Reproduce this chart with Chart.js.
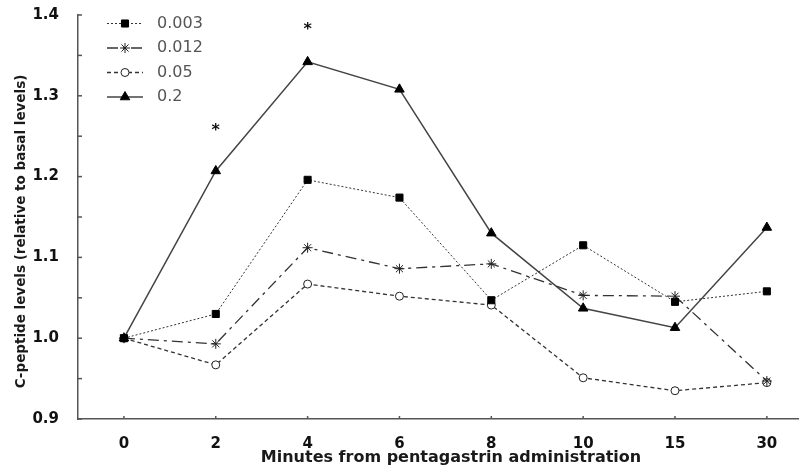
<!DOCTYPE html>
<html>
<head>
<meta charset="utf-8">
<script src="https://cdn.jsdelivr.net/npm/chart.js@4/dist/chart.umd.min.js"></script>
<style>
  html, body { margin: 0; padding: 0; background: #fff; overflow: hidden; }
</style>
</head>
<body>
<canvas id="chart" width="799" height="465"></canvas>
<script>
// minutes after pentagastrin, one category per point
const minutes = ['0', '2', '4', '6', '8', '10', '15', '30']
const doses = ['0.003', '0.012', '0.05', '0.2']

// C-peptide relative to basal
const dose003 = [1.0, 1.03, 1.196, 1.174, 1.047, 1.115, 1.045, 1.058]
const dose012 = [1.0, 0.993, 1.112, 1.086, 1.092, 1.053, 1.052, 0.947]
const dose05 = [1.0, 0.967, 1.067, 1.052, 1.041, 0.951, 0.935, 0.945]
const dose2 = [1.0, 1.207, 1.342, 1.308, 1.13, 1.037, 1.013, 1.137]

// significance stars
const starAt = ['2', '4']
const starY = [1.263, 1.388]

const yTicks = [0.9, 1.0, 1.1, 1.2, 1.3, 1.4]

const toPoints = arr => arr.map((v, i) => ({ x: i, y: v }))

const overlay = {
  id: 'overlay',
  afterDraw(chart) {
    const ctx = chart.ctx
    const xs = chart.scales.x
    const ys = chart.scales.y
    const area = chart.chartArea
    ctx.save()

    // inward tick marks
    ctx.strokeStyle = '#555'
    ctx.lineWidth = 1.5
    ys.ticks.forEach(t => {
      const y = ys.getPixelForValue(t.value)
      ctx.beginPath()
      ctx.moveTo(area.left, y)
      ctx.lineTo(area.left + 4, y)
      ctx.stroke()
    })
    xs.ticks.forEach(t => {
      const x = xs.getPixelForValue(t.value)
      ctx.beginPath()
      ctx.moveTo(x, area.bottom)
      ctx.lineTo(x, area.bottom - 3)
      ctx.stroke()
    })

    // stars
    ctx.fillStyle = '#111'
    ctx.font = 'bold 16px "DejaVu Sans"'
    ctx.textAlign = 'center'
    ctx.textBaseline = 'alphabetic'
    starAt.forEach((m, i) => {
      const x = xs.getPixelForValue(minutes.indexOf(m))
      const y = ys.getPixelForValue(starY[i])
      ctx.fillText('*', x, y + 9)
    })

    // axis titles
    ctx.fillStyle = '#1a1a1a'
    ctx.font = 'bold 16px "DejaVu Sans"'
    ctx.fillText('Minutes from pentagastrin administration', 451, 462)
    ctx.save()
    ctx.translate(24.5, 231.5)
    ctx.rotate(-Math.PI / 2)
    ctx.font = 'bold 13.5px "DejaVu Sans"'
    ctx.fillText('C-peptide levels (relative to basal levels)', 0, 0)
    ctx.restore()

    // legend inside the plot, bottom row is cut off as in the original
    ctx.save()
    ctx.beginPath()
    ctx.rect(0, 0, 400, 101.5)
    ctx.clip()
    chart.data.datasets.forEach((ds, i) => {
      const y = 23.5 + i * 24.5
      ctx.strokeStyle = ds.borderColor
      ctx.lineWidth = ds.borderWidth
      ctx.setLineDash(ds.borderDash || [])
      ctx.beginPath()
      ctx.moveTo(107, y)
      ctx.lineTo(143, y)
      ctx.stroke()
      ctx.setLineDash([])
      ctx.fillStyle = ds.pointBackgroundColor
      ctx.strokeStyle = ds.pointBorderColor
      ctx.lineWidth = ds.pointBorderWidth
      Chart.helpers.drawPoint(ctx, {
        pointStyle: ds.pointStyle,
        rotation: 0,
        radius: ds.pointRadius,
        borderWidth: ds.pointBorderWidth
      }, 125, y)
      ctx.fillStyle = '#555'
      ctx.font = '16px "DejaVu Sans"'
      ctx.textAlign = 'left'
      ctx.textBaseline = 'middle'
      ctx.fillText(ds.label, 157, y)
    })
    ctx.restore()

    ctx.restore()
  }
}

new Chart(document.getElementById('chart'), {
  type: 'line',
  data: {
    datasets: [
      {
        label: doses[0],
        data: toPoints(dose003),
        borderColor: '#333',
        borderWidth: 1,
        borderDash: [2, 2],
        pointStyle: 'rect',
        pointRadius: 5,
        pointBackgroundColor: '#000',
        pointBorderColor: '#000',
        pointBorderWidth: 1
      },
      {
        label: doses[1],
        data: toPoints(dose012),
        borderColor: '#333',
        borderWidth: 1.3,
        borderDash: [11, 5, 3, 5],
        pointStyle: 'star',
        pointRadius: 5,
        pointBackgroundColor: '#000',
        pointBorderColor: '#222',
        pointBorderWidth: 1
      },
      {
        label: doses[2],
        data: toPoints(dose05),
        borderColor: '#333',
        borderWidth: 1.3,
        borderDash: [4, 3],
        pointStyle: 'circle',
        pointRadius: 4,
        pointBackgroundColor: '#fff',
        pointBorderColor: '#222',
        pointBorderWidth: 1
      },
      {
        label: doses[3],
        data: toPoints(dose2),
        borderColor: '#444',
        borderWidth: 1.5,
        pointStyle: 'triangle',
        pointRadius: 5.5,
        pointBackgroundColor: '#000',
        pointBorderColor: '#000',
        pointBorderWidth: 1
      }
    ]
  },
  options: {
    responsive: false,
    animation: false,
    layout: { autoPadding: false, padding: { top: 15, left: 0, right: 0, bottom: 0 } },
    plugins: {
      legend: { display: false },
      tooltip: { enabled: false }
    },
    scales: {
      x: {
        type: 'linear',
        min: -0.5,
        max: 7.35,
        afterBuildTicks: scale => {
          scale.ticks = minutes.map((m, i) => ({ value: i }))
        },
        afterFit: scale => {
          scale.height = 46
          scale.paddingLeft = 0
          scale.paddingRight = 0
        },
        grid: { display: false },
        border: { display: true, color: '#555', width: 1.5 },
        ticks: {
          padding: 8,
          maxRotation: 0,
          autoSkip: false,
          color: '#111',
          font: { family: 'DejaVu Sans', size: 15, weight: 'bold' },
          callback: v => minutes[v]
        }
      },
      y: {
        min: 0.9,
        max: 1.4,
        afterFit: scale => {
          scale.width = 78
          scale.paddingTop = 0
          scale.paddingBottom = 0
        },
        grid: { display: false },
        border: { display: true, color: '#555', width: 1.5 },
        ticks: {
          stepSize: 0.05,
          padding: 11,
          color: '#111',
          font: { family: 'DejaVu Sans', size: 15, weight: 'bold' },
          callback: v => {
            const hit = yTicks.find(t => Math.abs(t - v) < 1e-6)
            return hit !== undefined ? hit.toFixed(1) : ''
          }
        }
      }
    }
  },
  plugins: [overlay]
})
</script>
</body>
</html>
